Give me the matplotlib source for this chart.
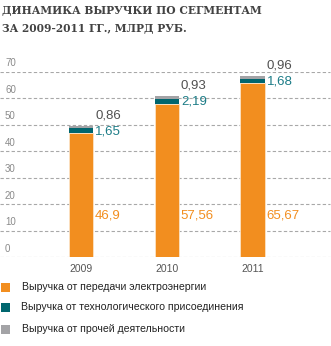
import matplotlib
matplotlib.use("Agg")
import matplotlib.pyplot as plt
from matplotlib.patches import Rectangle
import matplotlib.transforms as mtransforms

years = ["2009", "2010", "2011"]
transmission = [46.9, 57.56, 65.67]
connection = [1.65, 2.19, 1.68]
other = [0.86, 0.93, 0.96]
trans_labels = ["46,9", "57,56", "65,67"]
conn_labels = ["1,65", "2,19", "1,68"]
other_labels = ["0,86", "0,93", "0,96"]
y_ticks = [0, 10, 20, 30, 40, 50, 60, 70]
series_names = ["Выручка от передачи электроэнергии",
                "Выручка от технологического присоединения",
                "Выручка от прочей деятельности"]
title_lines = ["Динамика выручки по сегментам", "за 2009-2011 гг., млрд руб."]

c_orange = "#F28E1F"
c_teal = "#00666E"
c_gray = "#A3A3A6"
c_teal_txt = "#1C7C87"
c_gray_txt = "#505050"

W, H = 331, 346
fig = plt.figure(figsize=(W / 100, H / 100), dpi=100)
plt.rcParams['font.family'] = ['Liberation Sans', 'DejaVu Sans']

# axes placement in pixels
left_px, right_px = 0, 331
top_px, bottom_px = 71.5, 257
ax = fig.add_axes([left_px / W, (H - bottom_px) / H, (right_px - left_px) / W, (bottom_px - top_px) / H])
unit = 85.75
x0 = 81
ax.set_xlim((left_px - x0) / unit, (right_px - x0) / unit)
ax.set_ylim(0, 70)
for s in ax.spines.values():
    s.set_visible(False)
ax.set_yticks([])
xs = list(range(len(years)))
ax.set_xticks(xs)
ax.set_xticklabels(years, fontsize=7.5, color="#555555")
ax.tick_params(axis='x', length=0, pad=5)

for t in y_ticks:
    ax.axhline(t, color="#A8A8A8", lw=0.8, ls=(0, (3, 2)), zorder=1, xmax=330 / 331)
    ax.text(5 / 331, t + 3.2, str(t), transform=mtransforms.blended_transform_factory(ax.transAxes, ax.transData),
            fontsize=7, color="#8A8A8A", va="center", ha="left")

bw = 0.28
b1 = ax.bar(xs, transmission, width=bw, color=c_orange, edgecolor="#FCE3C6", lw=0.6, zorder=3)
b2 = ax.bar(xs, connection, width=bw, bottom=transmission, color=c_teal, lw=0.0, zorder=3)
bottoms3 = [a + b for a, b in zip(transmission, connection)]
b3 = ax.bar(xs, other, width=bw, bottom=bottoms3, color=c_gray, lw=0, zorder=3)

fs_val = 9.5
for i, x in enumerate(xs):
    top = bottoms3[i] + other[i]
    xl = x + bw / 2 + 0.025
    ax.text(xl, top + 3.9, other_labels[i], color=c_gray_txt, fontsize=fs_val, ha="left", va="center", clip_on=False)
    ax.text(xl, top - 1.9, conn_labels[i], color=c_teal_txt, fontsize=fs_val, ha="left", va="center")
    ax.text(xl, 15.8, trans_labels[i], color=c_orange, fontsize=fs_val, ha="left", va="center")

# title
for k, line in enumerate(title_lines):
    fig.text(2 / W, 1 - (10 + k * 18.5) / H, line.upper(), fontsize=7.7, fontweight="bold",
             family="DejaVu Serif", color="#424242", va="center", ha="left")

# legend
colors = [c_orange, c_teal, c_gray]
leg_y = [287.5, 307.5, 329.5]
leg_x = [22, 21, 22]
for name, col, yc, xt in zip(series_names, colors, leg_y, leg_x):
    fig.add_artist(Rectangle((1 / W, 1 - (yc + 4.5) / H), 9 / W, 9 / H, transform=fig.transFigure,
                             color=col, lw=0))
    fig.text(xt / W, 1 - yc / H, name, fontsize=7.6, color="#222222", va="center", ha="left")

fig.savefig("out.png", dpi=100)
